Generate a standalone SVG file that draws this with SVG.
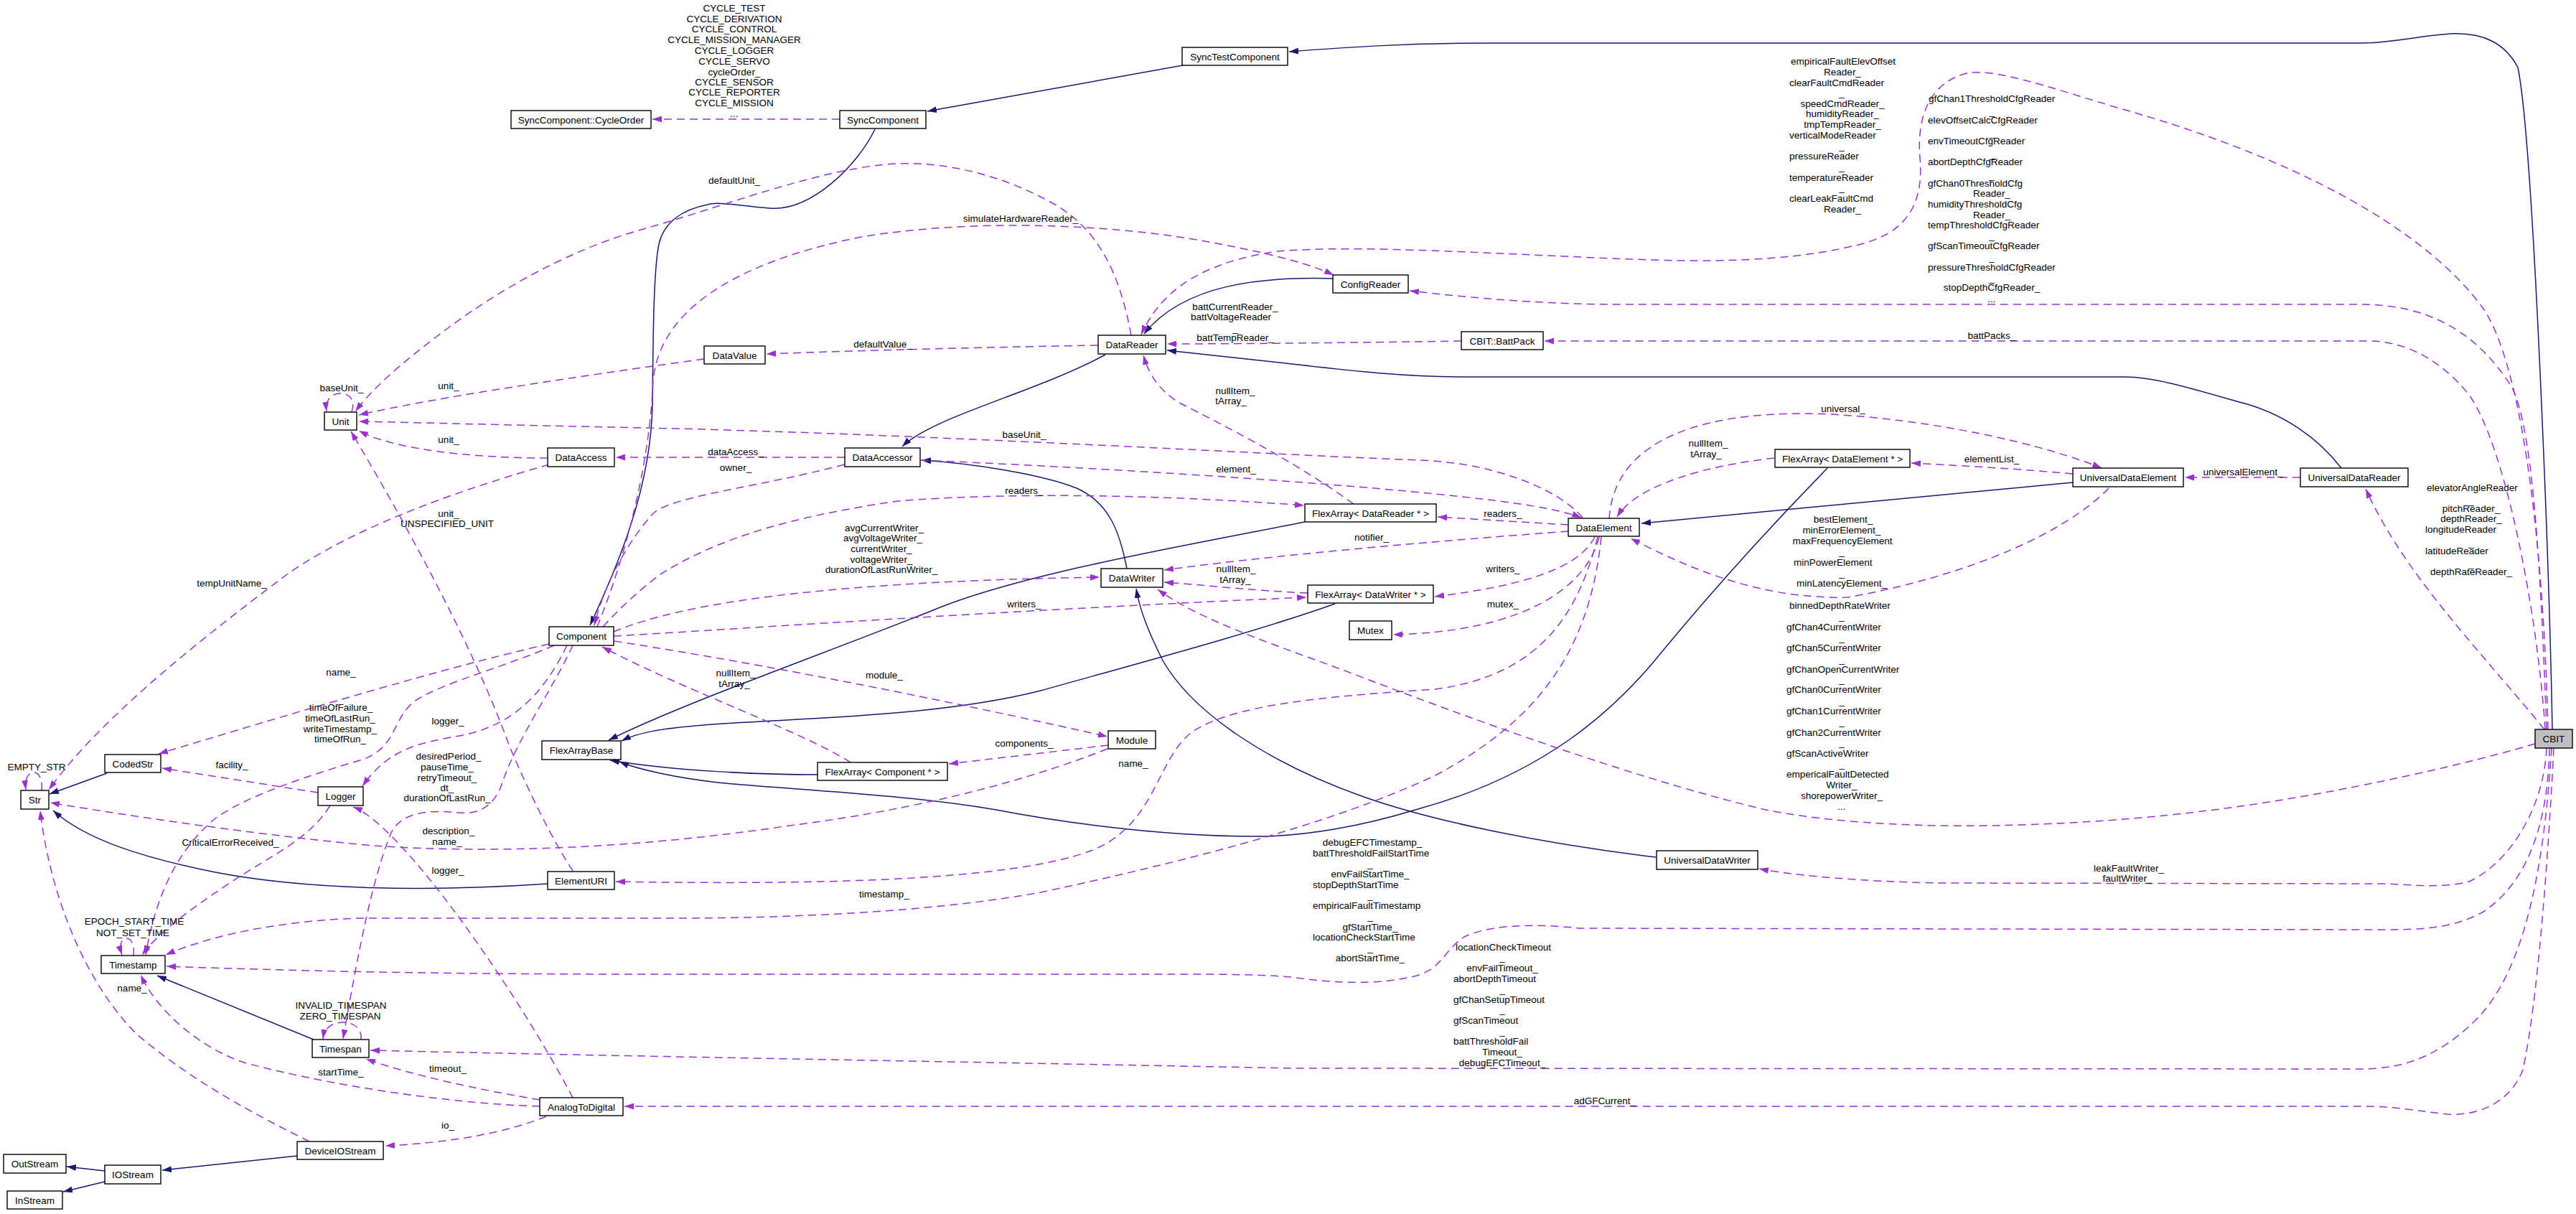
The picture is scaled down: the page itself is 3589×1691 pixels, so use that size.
<svg xmlns="http://www.w3.org/2000/svg" width="3589" height="1691" viewBox="0 0 3589 1691">
<style>
text{font-family:"Liberation Sans",Arial,Helvetica,sans-serif;font-size:13.5px;fill:#000;text-anchor:middle}
text.s{text-anchor:start}
.n rect{fill:#fff;stroke:#000;stroke-width:1.4}
.n.root rect{fill:#bfbfbf}
.i{fill:none;stroke:#191970;stroke-width:1.5;marker-end:url(#an)}
.u{fill:none;stroke:#9a32cd;stroke-width:1.5;stroke-dasharray:11,7;marker-end:url(#ap)}
</style>
<defs>
<marker id="an" viewBox="0 0 13 9" refX="13" refY="4.5" markerWidth="13" markerHeight="9" markerUnits="userSpaceOnUse" orient="auto"><path d="M0,0 L13,4.5 L0,9 z" fill="#191970" stroke="none"/></marker>
<marker id="ap" viewBox="0 0 13 9" refX="13" refY="4.5" markerWidth="13" markerHeight="9" markerUnits="userSpaceOnUse" orient="auto"><path d="M0,0 L13,4.5 L0,9 z" fill="#9a32cd" stroke="none"/></marker>
</defs>
<rect width="3589" height="1691" fill="#fff"/>
<g id="connectors">
<path class="i" d="M1648,91 L1292,155"/>
<path class="i" d="M3556,1016 C3552,800 3530,200 3508,94 C3490,60 3460,45 3414,47 C3370,50 3330,60 3290,60 L2081,60 C1950,60 1860,67 1796,72"/>
<path class="i" d="M1219,180 C1195,230 1130,295 1072,290 C1030,287 1000,280 986,285 C950,292 925,310 918,340 C910,380 910,480 909,564 C907,680 860,790 822,871"/>
<path class="i" d="M1540,494 C1440,548 1300,580 1257,622"/>
<path class="i" d="M1570,792 C1560,740 1545,700 1500,680 C1450,660 1350,645 1284,641"/>
<path class="i" d="M3262,652 C3230,610 3180,575 3120,560 C3050,540 3000,525 2960,525 L2050,525 C1950,525 1870,515 1800,507 C1740,500 1680,494 1626,488"/>
<path class="i" d="M1857,388 C1760,385 1650,395 1594,465"/>
<path class="i" d="M2888,672 L2287,729"/>
<path class="i" d="M1818,727 C1650,760 1420,800 1300,850 C1150,910 950,980 848,1031"/>
<path class="i" d="M1860,841 C1750,880 1600,920 1450,962 C1300,1000 1100,1000 980,1010 C920,1015 890,1020 866,1032"/>
<path class="i" d="M1139,1079 C1060,1079 940,1074 850,1059"/>
<path class="i" d="M2546,652 C2460,740 2380,830 2317,906 C2250,990 2150,1080 1972,1128 C1900,1150 1820,1165 1750,1165 C1600,1165 1450,1140 1388,1128 C1250,1105 1100,1100 1000,1090 C940,1083 890,1072 863,1061"/>
<path class="i" d="M149,1077 L69,1106"/>
<path class="i" d="M763,1231 C600,1242 430,1240 300,1215 C200,1195 120,1170 74,1129"/>
<path class="i" d="M437,1448 L219,1359"/>
<path class="i" d="M414,1610 L226,1630"/>
<path class="i" d="M146,1631 L93,1625"/>
<path class="i" d="M146,1646 L88,1660"/>
<path class="i" d="M2307,1194 C2150,1175 2000,1145 1900,1110 C1760,1060 1660,990 1620,920 C1600,880 1588,850 1583,820"/>
<path class="u" d="M1170,166 L909,166"/>
<path class="u" d="M490,574 C496,556 486,548 474,548 C462,548 453,556 455,573"/>
<path class="u" d="M1576,467 C1560,380 1530,320 1470,285 C1400,245 1320,225 1250,228 C1150,232 1000,290 900,318 C800,345 700,400 620,460 C560,505 520,540 495,573"/>
<path class="u" d="M981,500 C800,525 600,555 500,578"/>
<path class="u" d="M2205,721 C2170,680 2080,645 1980,641 C1800,635 1300,605 900,596 C700,592 560,588 500,587"/>
<path class="u" d="M763,638 C680,638 590,630 540,615 C520,610 510,605 500,600"/>
<path class="u" d="M798,1213 C770,1170 740,1110 710,1040 C660,900 560,720 489,601"/>
<path class="u" d="M765,647 C650,680 500,730 400,800 C280,890 140,1000 68,1100"/>
<path class="u" d="M58,1101 C60,1082 52,1076 47,1076 C40,1076 34,1084 36,1100"/>
<path class="u" d="M765,897 C620,930 420,990 221,1050"/>
<path class="u" d="M443,1104 L226,1070"/>
<path class="u" d="M790,899 C760,960 720,1010 640,1025 C580,1035 540,1045 505,1095"/>
<path class="u" d="M772,899 C700,930 620,950 580,975 C545,1000 555,1040 505,1058 C430,1080 340,1110 300,1140 C240,1190 215,1260 203,1330"/>
<path class="u" d="M460,1122 C430,1170 380,1190 320,1230 C260,1270 220,1300 198,1330"/>
<path class="u" d="M186,1331 C188,1314 182,1307 176,1307 C170,1307 165,1315 170,1330"/>
<path class="u" d="M798,899 C770,960 720,1030 700,1090 C690,1120 670,1135 640,1132 C600,1128 560,1130 545,1160 C520,1220 500,1320 478,1447"/>
<path class="u" d="M503,1448 C505,1432 492,1424 478,1424 C462,1424 452,1432 450,1447"/>
<path class="u" d="M752,1541 C620,1537 450,1510 340,1480 C280,1460 220,1410 196,1358"/>
<path class="u" d="M752,1532 C680,1520 580,1500 510,1475"/>
<path class="u" d="M798,1529 C720,1380 560,1150 492,1124"/>
<path class="u" d="M761,1555 C700,1580 620,1592 537,1596"/>
<path class="u" d="M431,1590 C340,1545 260,1500 190,1440 C120,1370 70,1250 56,1129"/>
<path class="u" d="M1543,1043 C1450,1080 1300,1125 1100,1150 C900,1180 700,1190 520,1178 C380,1165 200,1140 70,1118"/>
<path class="u" d="M856,893 C1000,915 1250,960 1543,1026"/>
<path class="u" d="M1544,1038 L1322,1064"/>
<path class="u" d="M1185,1062 C1120,1020 950,960 839,901"/>
<path class="u" d="M1177,637 L858,637"/>
<path class="u" d="M1177,647 C1050,680 940,690 910,715 C870,760 840,820 828,871"/>
<path class="u" d="M1283,641 C1500,650 1800,668 2000,688 C2100,698 2170,708 2203,721"/>
<path class="u" d="M840,873 C870,840 900,815 920,800 C1000,750 1100,720 1250,698 C1400,686 1600,688 1817,704"/>
<path class="u" d="M855,880 C950,840 1150,810 1532,804"/>
<path class="u" d="M855,886 C1000,878 1400,850 1820,832"/>
<path class="u" d="M2185,731 L2003,720"/>
<path class="u" d="M2185,740 C2050,750 1800,770 1622,794"/>
<path class="u" d="M1822,826 C1750,823 1680,815 1622,811"/>
<path class="u" d="M2222,748 C2200,790 2130,815 1999,831"/>
<path class="u" d="M2228,748 C2210,820 2120,880 1941,884"/>
<path class="u" d="M1886,702 C1800,640 1700,590 1645,562 C1615,545 1600,520 1593,495"/>
<path class="u" d="M2472,638 C2380,648 2280,675 2253,720"/>
<path class="u" d="M2242,722 C2250,600 2400,570 2550,577 C2700,585 2850,620 2928,652"/>
<path class="u" d="M2888,660 C2800,652 2720,648 2663,645"/>
<path class="u" d="M2938,680 C2880,740 2750,800 2575,832 C2450,835 2350,790 2272,750"/>
<path class="u" d="M3205,665 L3044,665"/>
<path class="u" d="M2226,748 C2200,850 2150,940 2000,960 C1850,970 1720,980 1660,1020 C1610,1060 1610,1150 1520,1185 C1400,1230 1100,1232 858,1228"/>
<path class="u" d="M2231,748 C2215,900 2150,1000 2000,1080 C1850,1150 1650,1200 1450,1243 C1300,1270 1100,1280 900,1279 L500,1279 C400,1282 300,1300 231,1330"/>
<path class="u" d="M3550,1016 C3545,800 3520,520 3460,430 C3380,320 3200,220 2950,150 C2850,120 2780,95 2740,102 C2690,115 2670,160 2675,220 C2680,280 2660,320 2600,338 C2520,360 2420,366 2300,362 C2100,355 1900,340 1780,350 C1680,365 1620,400 1590,466"/>
<path class="u" d="M3548,1016 C3540,800 3530,600 3500,540 C3450,460 3380,424 3290,424 L2260,424 C2150,424 2050,415 1964,405"/>
<path class="u" d="M3546,1016 C3535,850 3490,620 3440,550 C3400,500 3350,475 3300,475 L2152,475"/>
<path class="u" d="M2036,475 C1900,477 1750,479 1626,479"/>
<path class="u" d="M3545,1016 C3450,900 3350,800 3296,681"/>
<path class="u" d="M3532,1036 C3400,1075 3200,1115 3068,1130 C2950,1145 2800,1152 2700,1150 C2600,1148 2520,1140 2460,1128 C2300,1090 2100,1020 1915,950 C1800,905 1680,870 1613,821"/>
<path class="u" d="M3548,1042 C3545,1120 3500,1200 3440,1228 C3400,1238 3360,1232 3320,1231 L2700,1230 C2600,1228 2500,1220 2451,1210"/>
<path class="u" d="M3552,1042 C3550,1150 3520,1230 3460,1270 C3420,1292 3380,1295 3320,1295 L2200,1293 C2130,1285 2070,1290 2040,1305 C2010,1325 2010,1350 1970,1360 C1920,1372 1860,1370 1800,1361 C1750,1357 1700,1357 1600,1357 L900,1357 C600,1357 400,1352 232,1346"/>
<path class="u" d="M3555,1042 C3545,1200 3520,1350 3450,1420 C3400,1470 3350,1489 3290,1489 L1800,1488 C1400,1480 900,1472 516,1463"/>
<path class="u" d="M3558,1042 C3550,1200 3535,1400 3515,1490 C3500,1530 3460,1555 3410,1552 C3370,1548 3340,1541 3290,1541 L870,1541"/>
<path class="u" d="M1530,481 C1300,485 1150,490 1068,493"/>
<path class="u" d="M832,873 C870,780 905,650 910,530 C920,420 1050,360 1200,330 C1350,305 1550,310 1700,340 C1780,355 1830,370 1858,383"/>
<g id="edge-labels">
<text x="1023" y="16">CYCLE_TEST</text>
<text x="1023" y="31">CYCLE_DERIVATION</text>
<text x="1023" y="45">CYCLE_CONTROL</text>
<text x="1023" y="60">CYCLE_MISSION_MANAGER</text>
<text x="1023" y="75">CYCLE_LOGGER</text>
<text x="1023" y="90">CYCLE_SERVO</text>
<text x="1023" y="105">cycleOrder_</text>
<text x="1023" y="119">CYCLE_SENSOR</text>
<text x="1023" y="133">CYCLE_REPORTER</text>
<text x="1023" y="148">CYCLE_MISSION</text>
<text x="1023" y="163">...</text>
<text x="2568" y="90">empiricalFaultElevOffset</text>
<text x="2567" y="105">Reader_</text>
<text class="s" x="2493" y="120">clearFaultCmdReader</text>
<text x="2566" y="134">_</text>
<text x="2567" y="149">speedCmdReader_</text>
<text x="2567" y="163">humidityReader_</text>
<text x="2567" y="178">tmpTempReader_</text>
<text class="s" x="2493" y="193">verticalModeReader</text>
<text x="2566" y="208">_</text>
<text class="s" x="2493" y="222">pressureReader</text>
<text x="2566" y="237">_</text>
<text class="s" x="2493" y="252">temperatureReader</text>
<text x="2566" y="266">_</text>
<text class="s" x="2493" y="281">clearLeakFaultCmd</text>
<text x="2567" y="296">Reader_</text>
<text class="s" x="2687" y="142">gfChan1ThresholdCfgReader</text>
<text x="2775" y="160">_</text>
<text class="s" x="2686" y="172">elevOffsetCalcCfgReader</text>
<text x="2775" y="190">_</text>
<text class="s" x="2686" y="201">envTimeoutCfgReader</text>
<text x="2775" y="220">_</text>
<text class="s" x="2686" y="230">abortDepthCfgReader</text>
<text x="2775" y="249">_</text>
<text class="s" x="2686" y="260">gfChan0ThresholdCfg</text>
<text x="2775" y="274">Reader_</text>
<text class="s" x="2686" y="289">humidityThresholdCfg</text>
<text x="2775" y="304">Reader_</text>
<text class="s" x="2686" y="318">tempThresholdCfgReader</text>
<text x="2775" y="333">_</text>
<text class="s" x="2686" y="347">gfScanTimeoutCfgReader</text>
<text x="2775" y="363">_</text>
<text class="s" x="2686" y="377">pressureThresholdCfgReader</text>
<text x="2775" y="392">_</text>
<text x="2775" y="405">stopDepthCfgReader_</text>
<text x="2775" y="421">...</text>
<text x="2775" y="472">battPacks_</text>
<text x="1721" y="432">battCurrentReader_</text>
<text x="1715" y="446">battVoltageReader</text>
<text x="1721" y="462">_</text>
<text x="1721" y="475">battTempReader_</text>
<text x="1721" y="549">nullItem_</text>
<text x="1715" y="563">tArray_</text>
<text x="1023" y="256">defaultUnit_</text>
<text x="1422" y="309">simulateHardwareReader_</text>
<text x="1230" y="484">defaultValue_</text>
<text x="476" y="545">baseUnit_</text>
<text x="625" y="542">unit_</text>
<text x="625" y="617">unit_</text>
<text x="625" y="720">unit_</text>
<text x="623" y="734">UNSPECIFIED_UNIT</text>
<text x="323" y="817">tempUnitName_</text>
<text x="475" y="941">name_</text>
<text x="475" y="990">timeOfFailure_</text>
<text x="474" y="1005">timeOfLastRun_</text>
<text x="474" y="1020">writeTimestamp_</text>
<text x="474" y="1034">timeOfRun_</text>
<text x="624" y="1009">logger_</text>
<text x="323" y="1070">facility_</text>
<text x="51" y="1073">EMPTY_STR</text>
<text x="625" y="1058">desiredPeriod_</text>
<text x="623" y="1073">pauseTime_</text>
<text x="623" y="1088">retryTimeout_</text>
<text x="623" y="1102">dt_</text>
<text x="623" y="1116">durationOfLastRun_</text>
<text x="321" y="1178">CriticalErrorReceived_</text>
<text x="625" y="1162">description_</text>
<text x="623" y="1177">name_</text>
<text x="624" y="1217">logger_</text>
<text x="187" y="1288">EPOCH_START_TIME</text>
<text x="185" y="1304">NOT_SET_TIME</text>
<text x="184" y="1381">name_</text>
<text x="475" y="1405">INVALID_TIMESPAN</text>
<text x="474" y="1420">ZERO_TIMESPAN</text>
<text x="475" y="1498">startTime_</text>
<text x="624" y="1493">timeout_</text>
<text x="624" y="1572">io_</text>
<text x="1427" y="610">baseUnit_</text>
<text x="1025" y="634">dataAccess_</text>
<text x="1025" y="656">owner_</text>
<text x="1722" y="658">element_</text>
<text x="1427" y="688">readers_</text>
<text x="1232" y="740">avgCurrentWriter_</text>
<text x="1230" y="754">avgVoltageWriter_</text>
<text x="1228" y="769">currentWriter_</text>
<text x="1228" y="784">voltageWriter_</text>
<text x="1228" y="798">durationOfLastRunWriter_</text>
<text x="1722" y="797">nullItem_</text>
<text x="1721" y="812">tArray_</text>
<text x="1427" y="846">writers_</text>
<text x="1025" y="942">nullItem_</text>
<text x="1023" y="957">tArray_</text>
<text x="1232" y="945">module_</text>
<text x="1427" y="1040">components_</text>
<text x="1579" y="1068">name_</text>
<text x="2568" y="574">universal_</text>
<text x="2380" y="622">nullItem_</text>
<text x="2377" y="637">tArray_</text>
<text x="2094" y="720">readers_</text>
<text x="1911" y="753">notifier_</text>
<text x="2094" y="797">writers_</text>
<text x="2094" y="846">mutex_</text>
<text x="2568" y="728">bestElement_</text>
<text x="2566" y="743">minErrorElement_</text>
<text x="2567" y="758">maxFrequencyElement</text>
<text x="2566" y="773">_</text>
<text class="s" x="2499" y="788">minPowerElement</text>
<text x="2566" y="803">_</text>
<text x="2566" y="817">minLatencyElement_</text>
<text class="s" x="2493" y="848">binnedDepthRateWriter</text>
<text x="2566" y="863">_</text>
<text class="s" x="2489" y="878">gfChan4CurrentWriter</text>
<text x="2566" y="893">_</text>
<text class="s" x="2489" y="907">gfChan5CurrentWriter</text>
<text x="2566" y="923">_</text>
<text class="s" x="2489" y="937">gfChanOpenCurrentWriter</text>
<text x="2566" y="951">_</text>
<text class="s" x="2489" y="965">gfChan0CurrentWriter</text>
<text x="2566" y="981">_</text>
<text class="s" x="2489" y="995">gfChan1CurrentWriter</text>
<text x="2566" y="1010">_</text>
<text class="s" x="2489" y="1025">gfChan2CurrentWriter</text>
<text x="2566" y="1039">_</text>
<text class="s" x="2489" y="1054">gfScanActiveWriter</text>
<text x="2566" y="1069">_</text>
<text class="s" x="2489" y="1083">empericalFaultDetected</text>
<text x="2566" y="1098">Writer_</text>
<text x="2566" y="1113">shorepowerWriter_</text>
<text x="2566" y="1128">...</text>
<text x="2775" y="644">elementList_</text>
<text x="3125" y="662">universalElement_</text>
<text class="s" x="3381" y="684">elevatorAngleReader</text>
<text x="3443" y="702">_</text>
<text x="3443" y="713">pitchReader_</text>
<text x="3443" y="727">depthReader_</text>
<text class="s" x="3379" y="742">longitudeReader</text>
<text x="3443" y="761">_</text>
<text class="s" x="3379" y="772">latitudeReader</text>
<text x="3443" y="790">_</text>
<text x="3443" y="801">depthRateReader_</text>
<text x="1232" y="1250">timestamp_</text>
<text x="1912" y="1178">debugEFCTimestamp_</text>
<text class="s" x="1829" y="1193">battThresholdFailStartTime</text>
<text x="1909" y="1208">_</text>
<text x="1909" y="1222">envFailStartTime_</text>
<text class="s" x="1829" y="1237">stopDepthStartTime</text>
<text x="1909" y="1252">_</text>
<text class="s" x="1829" y="1266">empiricalFaultTimestamp</text>
<text x="1909" y="1281">_</text>
<text x="1909" y="1296">gfStartTime_</text>
<text class="s" x="1829" y="1310">locationCheckStartTime</text>
<text x="1909" y="1325">_</text>
<text x="1909" y="1339">abortStartTime_</text>
<text class="s" x="2028" y="1324">locationCheckTimeout</text>
<text x="2093" y="1338">_</text>
<text x="2093" y="1353">envFailTimeout_</text>
<text class="s" x="2025" y="1368">abortDepthTimeout</text>
<text x="2093" y="1383">_</text>
<text class="s" x="2025" y="1397">gfChanSetupTimeout</text>
<text x="2093" y="1411">_</text>
<text class="s" x="2025" y="1426">gfScanTimeout</text>
<text x="2093" y="1441">_</text>
<text class="s" x="2025" y="1455">battThresholdFail</text>
<text x="2093" y="1470">Timeout_</text>
<text x="2093" y="1485">debugEFCTimeout_</text>
<text x="2236" y="1538">adGFCurrent_</text>
<text x="2966" y="1214">leakFaultWriter_</text>
<text x="2964" y="1228">faultWriter_</text>
</g>
</g>
<g id="node-CBIT" class="n root"><rect x="3532" y="1016" width="52" height="26"/><text x="3558" y="1034">CBIT</text></g>
<g id="node-SyncTestComponent" class="n"><rect x="1647" y="66" width="147" height="25"/><text x="1720.5" y="83.5">SyncTestComponent</text></g>
<g id="node-SyncComponent" class="n"><rect x="1170" y="154" width="120" height="25"/><text x="1230" y="171.5">SyncComponent</text></g>
<g id="node-CycleOrder" class="n"><rect x="712" y="154" width="195" height="25"/><text x="809.5" y="171.5">SyncComponent::CycleOrder</text></g>
<g id="node-Unit" class="n"><rect x="452" y="574" width="45" height="25"/><text x="474.5" y="591.5">Unit</text></g>
<g id="node-DataValue" class="n"><rect x="981" y="482" width="85" height="25"/><text x="1023.5" y="499.5">DataValue</text></g>
<g id="node-DataReader" class="n"><rect x="1530" y="467" width="94" height="26"/><text x="1577" y="485">DataReader</text></g>
<g id="node-ConfigReader" class="n"><rect x="1857" y="383" width="105" height="25"/><text x="1909.5" y="400.5">ConfigReader</text></g>
<g id="node-BattPack" class="n"><rect x="2036" y="462" width="114" height="25"/><text x="2093" y="479.5">CBIT::BattPack</text></g>
<g id="node-DataAccess" class="n"><rect x="763" y="624" width="93" height="26"/><text x="809.5" y="642">DataAccess</text></g>
<g id="node-DataAccessor" class="n"><rect x="1177" y="624" width="105" height="26"/><text x="1229.5" y="642">DataAccessor</text></g>
<g id="node-FlexArrayDataReader" class="n"><rect x="1818" y="702" width="183" height="25"/><text x="1909.5" y="719.5">FlexArray&lt; DataReader * &gt;</text></g>
<g id="node-DataElement" class="n"><rect x="2185" y="722" width="99" height="25"/><text x="2234.5" y="739.5">DataElement</text></g>
<g id="node-FlexArrayDataElement" class="n"><rect x="2473" y="626" width="188" height="25"/><text x="2567" y="643.5">FlexArray&lt; DataElement * &gt;</text></g>
<g id="node-UniversalDataElement" class="n"><rect x="2888" y="652" width="154" height="26"/><text x="2965" y="670">UniversalDataElement</text></g>
<g id="node-UniversalDataReader" class="n"><rect x="3205" y="652" width="150" height="26"/><text x="3280" y="670">UniversalDataReader</text></g>
<g id="node-DataWriter" class="n"><rect x="1534" y="792" width="86" height="26"/><text x="1577" y="810">DataWriter</text></g>
<g id="node-FlexArrayDataWriter" class="n"><rect x="1822" y="815" width="175" height="25"/><text x="1909.5" y="832.5">FlexArray&lt; DataWriter * &gt;</text></g>
<g id="node-Mutex" class="n"><rect x="1880" y="865" width="59" height="26"/><text x="1909.5" y="883">Mutex</text></g>
<g id="node-Component" class="n"><rect x="765" y="873" width="90" height="26"/><text x="810" y="891">Component</text></g>
<g id="node-Module" class="n"><rect x="1544" y="1018" width="66" height="25"/><text x="1577" y="1035.5">Module</text></g>
<g id="node-FlexArrayComponent" class="n"><rect x="1139" y="1062" width="181" height="25"/><text x="1229.5" y="1079.5">FlexArray&lt; Component * &gt;</text></g>
<g id="node-FlexArrayBase" class="n"><rect x="755" y="1032" width="110" height="26"/><text x="810" y="1050">FlexArrayBase</text></g>
<g id="node-CodedStr" class="n"><rect x="146" y="1051" width="78" height="25"/><text x="185" y="1068.5">CodedStr</text></g>
<g id="node-Str" class="n"><rect x="29" y="1101" width="39" height="26"/><text x="48.5" y="1119">Str</text></g>
<g id="node-Logger" class="n"><rect x="443" y="1096" width="63" height="26"/><text x="474.5" y="1114">Logger</text></g>
<g id="node-ElementURI" class="n"><rect x="763" y="1214" width="93" height="25"/><text x="809.5" y="1231.5">ElementURI</text></g>
<g id="node-UniversalDataWriter" class="n"><rect x="2308" y="1185" width="141" height="26"/><text x="2378.5" y="1203">UniversalDataWriter</text></g>
<g id="node-Timestamp" class="n"><rect x="141" y="1331" width="89" height="25"/><text x="185.5" y="1348.5">Timestamp</text></g>
<g id="node-Timespan" class="n"><rect x="435" y="1448" width="79" height="25"/><text x="474.5" y="1465.5">Timespan</text></g>
<g id="node-AnalogToDigital" class="n"><rect x="752" y="1529" width="116" height="25"/><text x="810" y="1546.5">AnalogToDigital</text></g>
<g id="node-DeviceIOStream" class="n"><rect x="414" y="1590" width="120" height="25"/><text x="474" y="1607.5">DeviceIOStream</text></g>
<g id="node-OutStream" class="n"><rect x="5" y="1608" width="87" height="26"/><text x="48.5" y="1626">OutStream</text></g>
<g id="node-IOStream" class="n"><rect x="146" y="1623" width="78" height="26"/><text x="185" y="1641">IOStream</text></g>
<g id="node-InStream" class="n"><rect x="10" y="1659" width="77" height="25"/><text x="48.5" y="1676.5">InStream</text></g>
</svg>
